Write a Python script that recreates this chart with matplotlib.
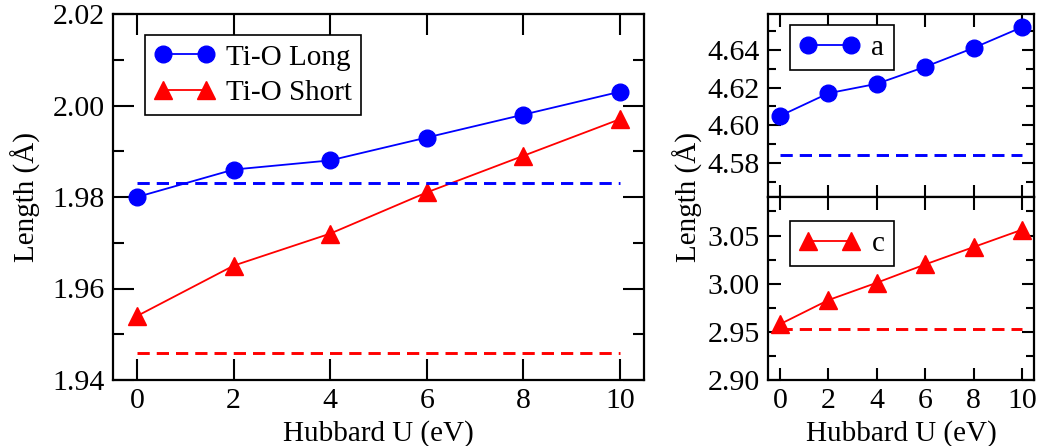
import numpy as np
import matplotlib.pyplot as plt
from matplotlib.ticker import MultipleLocator

plt.rcParams['font.family'] = ['Liberation Serif', 'DejaVu Serif']

U = [0, 2, 4, 6, 8, 10]

tio_long = [1.980, 1.986, 1.988, 1.993, 1.998, 2.003]
tio_short = [1.954, 1.965, 1.972, 1.981, 1.989, 1.997]
tio_long_ref = 1.983
tio_short_ref = 1.946

a_vals = [4.605, 4.617, 4.622, 4.631, 4.641, 4.652]
a_ref = 4.584
c_vals = [2.958, 2.983, 3.001, 3.020, 3.038, 3.056]
c_ref = 2.953

W, H = 1038, 446
fig = plt.figure(figsize=(W / 100, H / 100), dpi=100)


def box(x0, y0, x1, y1):
    # pixel box (top-left origin) -> figure fraction
    return [x0 / W, (H - y1) / H, (x1 - x0) / W, (y1 - y0) / H]


def style(ax, major, minor):
    ax.tick_params(which='both', direction='in', top=True, right=True,
                   labelsize=21.5, width=1.5, pad=6)
    ax.tick_params(which='major', length=major)
    ax.tick_params(which='minor', length=minor)
    for s in ax.spines.values():
        s.set_linewidth(1.6)


def add_legend(ax, x, y):
    leg = ax.legend(loc='upper left', bbox_to_anchor=(x, y), borderaxespad=0,
                    fontsize=21, numpoints=2, handlelength=2.07,
                    fancybox=False, edgecolor='black', framealpha=1,
                    borderpad=0.32, labelspacing=0.3, handletextpad=0.4)
    leg.get_frame().set_linewidth(1.2)


dash = dict(lw=2.1, dashes=(4.2, 2.4))

ax1 = fig.add_axes(box(113, 14, 644, 380))
ax1.plot(U, tio_long, '-o', color='blue', lw=1.3, ms=12, label='Ti-O Long')
ax1.plot(U, tio_short, '-^', color='red', lw=1.3, ms=13, label='Ti-O Short')
ax1.plot([U[0], U[-1]], [tio_long_ref] * 2, '--', color='blue', **dash)
ax1.plot([U[0], U[-1]], [tio_short_ref] * 2, '--', color='red', **dash)
ax1.set_xlim(-0.5, 10.5)
ax1.set_ylim(1.94, 2.02)
ax1.xaxis.set_major_locator(MultipleLocator(2))
ax1.yaxis.set_major_locator(MultipleLocator(0.02))
ax1.yaxis.set_minor_locator(MultipleLocator(0.01))
ax1.yaxis.set_major_formatter(plt.FormatStrFormatter('%.2f'))
style(ax1, 15, 8)
ax1.set_xlabel('Hubbard U (eV)', fontsize=21, labelpad=4)
ax1.set_ylabel('Length (Å)', fontsize=21, labelpad=8)
add_legend(ax1, 0.060, 0.943)

ax2 = fig.add_axes(box(768, 14, 1034, 197))
ax2.plot(U, a_vals, '-o', color='blue', lw=1.3, ms=12, label='a')
ax2.plot([U[0], U[-1]], [a_ref] * 2, '--', color='blue', **dash)
ax2.set_xlim(-0.5, 10.5)
ax2.set_ylim(4.562, 4.659)
ax2.xaxis.set_major_locator(MultipleLocator(2))
ax2.yaxis.set_major_locator(MultipleLocator(0.02))
ax2.yaxis.set_minor_locator(MultipleLocator(0.01))
ax2.yaxis.set_major_formatter(plt.FormatStrFormatter('%.2f'))
ax2.tick_params(labelbottom=False)
style(ax2, 9, 6)
add_legend(ax2, 0.083, 0.94)

ax3 = fig.add_axes(box(768, 197, 1034, 380))
ax3.plot(U, c_vals, '-^', color='red', lw=1.3, ms=13, label='c')
ax3.plot([U[0], U[-1]], [c_ref] * 2, '--', color='red', **dash)
ax3.set_xlim(-0.5, 10.5)
ax3.set_ylim(2.90, 3.09)
ax3.xaxis.set_major_locator(MultipleLocator(2))
ax3.yaxis.set_major_locator(MultipleLocator(0.05))
ax3.yaxis.set_minor_locator(MultipleLocator(0.025))
ax3.yaxis.set_major_formatter(plt.FormatStrFormatter('%.2f'))
style(ax3, 9, 6)
ax3.set_xlabel('Hubbard U (eV)', fontsize=21, labelpad=4)
add_legend(ax3, 0.083, 0.869)

fig.text(688 / W, 1 - 197 / H, 'Length (Å)', fontsize=21, rotation=90,
         ha='center', va='center')

fig.savefig('out.png', dpi=100)
